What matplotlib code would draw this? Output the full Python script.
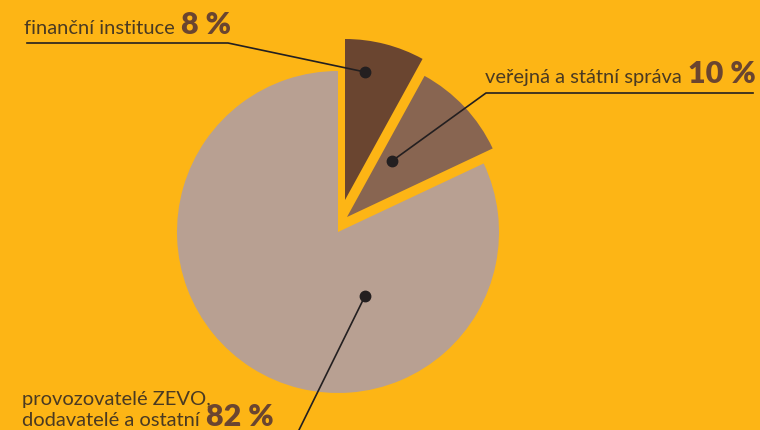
import matplotlib
matplotlib.use("Agg")
import matplotlib.pyplot as plt

# shares of the pie (percent)
segments = ["finanční instituce", "veřejná a státní správa",
            "provozovatelé ZEVO,\ndodavatelé a ostatní"]
shares = [8, 10, 82]
share_labels = ["8 %", "10 %", "82 %"]
colors = ["#6a4530", "#886551", "#b8a092"]

bg = "#fdb515"
txt_col = "#4a3a22"
num_col = "#6a4530"
line_col = "#231f20"

W, H = 760, 431
fig = plt.figure(figsize=(W / 100, H / 100), dpi=100, facecolor=bg)
ax = fig.add_axes([0, 0, 1, 1])

cx, cy, r = 338, 233, 161
wedges, _ = ax.pie(shares, colors=colors, startangle=-90, counterclock=True,
                   center=(cx, cy), radius=r, frame=True,
                   wedgeprops=dict(linewidth=0))
# pulled-out slices
offsets = [(7, -32), (9, -15), (0, 0)]
for w, (dx, dy) in zip(wedges, offsets):
    w.set_center((cx + dx, cy + dy))
ax.set_xlim(0, W)
ax.set_ylim(H, 0)
ax.set_aspect("equal")
ax.axis("off")

fig.canvas.draw()
renderer = fig.canvas.get_renderer()
txt_kw = dict(fontsize=14.5, family="Lato", color=txt_col,
              va="baseline", ha="left")


def label(x, y, text, num, gap=6):
    t = ax.text(x, y, text, **txt_kw)
    bb = t.get_window_extent(renderer)
    x1 = ax.transData.inverted().transform((bb.x1, bb.y0))[0]
    ax.text(x1 + gap, y, num, fontsize=22, family="Lato", weight="heavy",
            color=num_col, va="baseline", ha="left")


label(24, 34, segments[0], share_labels[0])
label(485, 83, segments[1], share_labels[1])
lines3 = segments[2].split("\n")
ax.text(22, 405, lines3[0], **txt_kw)
label(22, 426, lines3[1], share_labels[2])

# leader lines
ax.plot([27, 228, 365], [44, 44, 73], color=line_col, lw=1.2)
ax.plot([753, 486, 392], [94, 94, 162], color=line_col, lw=1.2)
ax.plot([365, 298], [297, 433], color=line_col, lw=1.2, clip_on=False)
ax.plot([365, 392, 365], [73, 162, 297], "o", color=line_col, ms=7.5)

fig.savefig("out.png", dpi=100, facecolor=bg)
